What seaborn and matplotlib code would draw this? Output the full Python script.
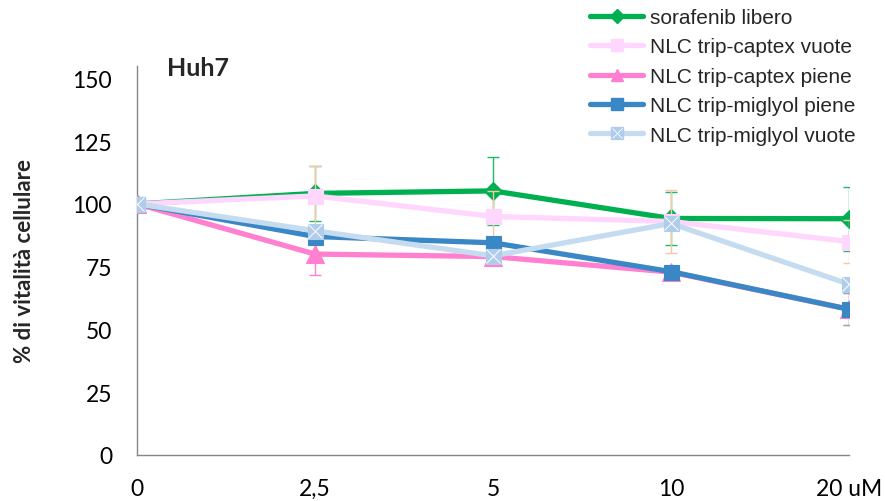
import numpy as np
import matplotlib
matplotlib.use("Agg")
import matplotlib.pyplot as plt
from matplotlib.lines import Line2D
from matplotlib.legend_handler import HandlerTuple
import seaborn as sns

# Concentrations (categorical axis) and viability (% of untreated control)
doses = ["0", "2,5", "5", "10", "20 uM"]
series_names = [
    "sorafenib libero",
    "NLC trip-captex vuote",
    "NLC trip-captex piene",
    "NLC trip-miglyol piene",
    "NLC trip-miglyol vuote",
]
sorafenib = [100, 104.2, 105.2, 94.2, 94.1]
captex_vuote = [100, 103.2, 95.0, 93.0, 85.0]
captex_piene = [100, 80.0, 79.0, 72.8, 58.0]
miglyol_piene = [100, 87.0, 84.5, 73.0, 58.0]
miglyol_vuote = [100, 89.3, 79.3, 92.2, 68.0]

# Standard deviations
sorafenib_sd = [0, 11.0, 13.5, 10.6, 12.7]
captex_vuote_sd = [0, 12.0, 10.0, 12.6, 8.6]
captex_piene_sd = [0, 8.4, 2.0, 1.5, 6.3]
miglyol_piene_sd = [0, 2.0, 2.0, 2.0, 6.4]
miglyol_vuote_sd = [0, 2.0, 2.0, 2.0, 2.0]

values = [sorafenib, captex_vuote, captex_piene, miglyol_piene, miglyol_vuote]
sds = [sorafenib_sd, captex_vuote_sd, captex_piene_sd, miglyol_piene_sd, miglyol_vuote_sd]

line_colors = ["#00B050", "#FFD6FD", "#FF80D0", "#3A87C6", "#C5DCF0"]
marker_colors = ["#00B050", "#FFD6FD", "#FF80D0", "#3A87C6", "#AFCDEB"]
err_colors = ["#1FB866", "#F5C9A8", "#FF80D0", "#A6A6A6", "#C5DCF0"]
markers = ["D", "s", "^", "s", "s"]
msizes = [9.5, 10.8, 13.5, 10.8, 10.8]

sns.set_theme(style="white")
plt.rcParams["font.family"] = ["Lato", "DejaVu Sans"]

fig = plt.figure(figsize=(8.85, 5.02), dpi=100)
ax = fig.add_axes([137 / 885, 1 - 455.7 / 502, (849 - 137) / 885, (455.7 - 67) / 502])

x = np.arange(len(doses))
for i, (vals, sd) in enumerate(zip(values, sds)):
    z = 3 + i
    sd = np.asarray(sd, dtype=float)
    m = sd > 0
    ax.errorbar(x[m], np.asarray(vals)[m], yerr=sd[m], fmt="none",
                ecolor=err_colors[i], elinewidth=1.0, capsize=4.3,
                capthick=1.0, zorder=z - 0.5)
    sns.lineplot(x=x, y=vals, ax=ax, color=line_colors[i], lw=3.8,
                 marker=markers[i], markersize=msizes[i],
                 markerfacecolor=marker_colors[i],
                 markeredgecolor=marker_colors[i], markeredgewidth=0.8,
                 legend=False, zorder=z)
    if i == 4:
        # white cross drawn over the square markers
        ax.plot(x, vals, ls="none", marker="x", markersize=10,
                markeredgecolor="white", markeredgewidth=0.7, zorder=z + 0.1)

ax.set_xlim(0, 4)
ax.set_ylim(0, 155)
ax.set_xticks(x)
ax.set_xticklabels(doses)
ax.set_yticks(np.arange(0, 151, 25))

for side in ["top", "right"]:
    ax.spines[side].set_visible(False)
for side in ["left", "bottom"]:
    ax.spines[side].set_color("#868686")
    ax.spines[side].set_linewidth(1.0)

ax.tick_params(axis="both", direction="out", length=5, width=1.0,
               color="#868686", labelsize=16.5, labelcolor="black")
ax.tick_params(axis="y", pad=13)
ax.tick_params(axis="x", pad=11.5)
ax.set_xlabel("")
ax.set_ylabel("% di vitalità cellulare", fontsize=16, fontweight="bold", labelpad=27)

fig.text(167 / 885, 1 - 68 / 502, "Huh7", fontsize=18, fontweight="bold",
         ha="left", va="center")

# Legend with compact markers
handles = []
leg_ms = [7, 8, 9, 8, 8]
for i in range(5):
    h = Line2D([], [], color=line_colors[i], lw=3.8, marker=markers[i],
               markersize=leg_ms[i], markerfacecolor=marker_colors[i],
               markeredgecolor=marker_colors[i])
    if i == 4:
        hx = Line2D([], [], ls="none", marker="x", markersize=7.5,
                    markeredgecolor="white", markeredgewidth=0.6)
        h = (h, hx)
    handles.append(h)

fig.legend(handles, series_names, loc="upper left",
           bbox_to_anchor=(590 / 885, 1 - 9 / 502), frameon=False,
           prop={"family": ["Liberation Sans", "DejaVu Sans"], "size": 15},
           handlelength=2.55, handletextpad=0.33, labelspacing=0.5,
           borderpad=0, borderaxespad=0,
           handler_map={tuple: HandlerTuple(ndivide=1)})

fig.savefig("out.png", dpi=100)
